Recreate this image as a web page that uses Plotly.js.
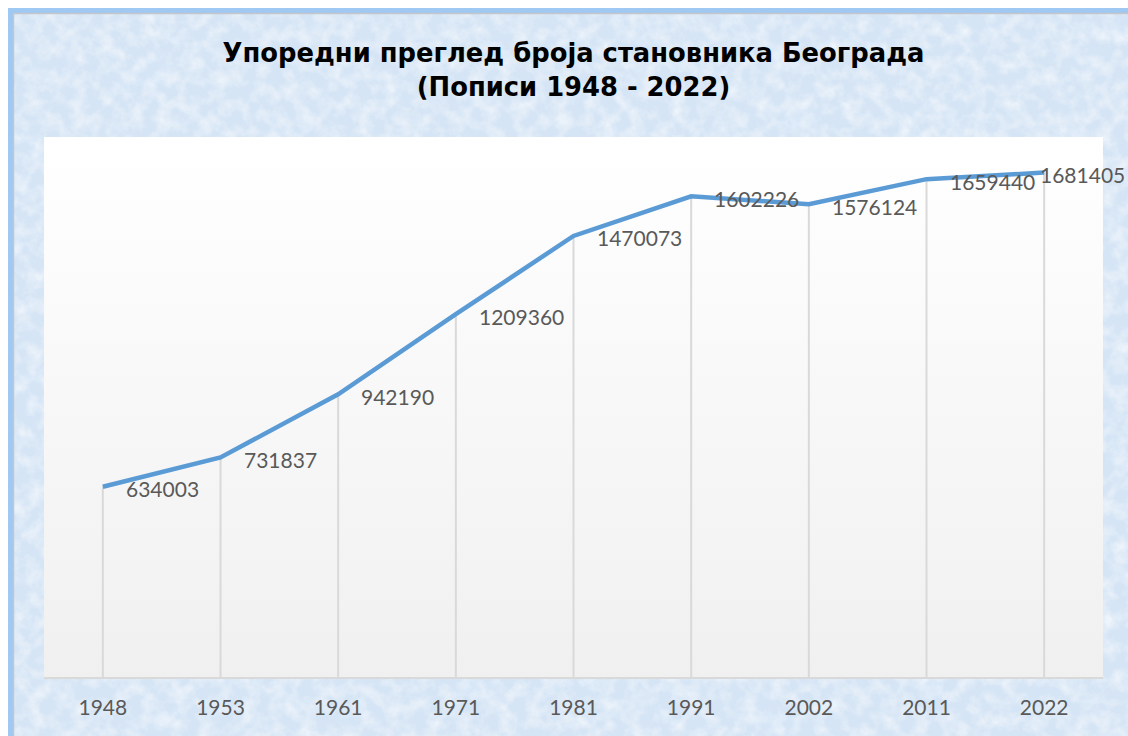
<!DOCTYPE html>
<html>
<head>
<meta charset="utf-8">
<script src="https://cdn.plot.ly/plotly-3.0.1.min.js"></script>
<style>html,body{margin:0;padding:0;background:#fff;}#chart{width:1128px;height:736px;}</style>
</head>
<body>
<div id="chart"></div>
<script>
var years = ['1948', '1953', '1961', '1971', '1981', '1991', '2002', '2011', '2022'];
var population = [634003, 731837, 942190, 1209360, 1470073, 1602226, 1576124, 1659440, 1681405];
var chartTitle = 'Упоредни преглед броја становника Београда<br>(Пописи 1948 - 2022)';

var W = 1128, H = 736, L = 44, R = 25, T = 137, B = 59;
var pw = W - L - R, ph = H - T - B;
function px(x) { return (x - L) / pw; }
function py(y) { return (H - B - y) / ph; }

var textColor = '#595959';
var labelFont = {family: 'Lato, "Open Sans", sans-serif', size: 21, color: textColor};

var dropTrace = {
  x: years, y: population, type: 'scatter', mode: 'markers',
  marker: {size: 1, opacity: 0},
  error_y: {type: 'data', symmetric: false, array: population.map(function(){return 0;}),
            arrayminus: population, color: '#d9d9d9', thickness: 2, width: 0},
  hoverinfo: 'skip', showlegend: false
};
var lineTrace = {
  x: years, y: population, type: 'scatter', mode: 'lines',
  line: {color: '#5b9bd5', width: 4.5},
  cliponaxis: false, showlegend: false
};

var annotations = years.map(function(yr, i) {
  var last = i === years.length - 1;
  return {
    x: i, y: population[i], xref: 'x', yref: 'y',
    text: String(population[i]), showarrow: false,
    xanchor: 'left', yanchor: 'middle',
    xshift: last ? -6 : 21, yshift: -2,
    font: labelFont
  };
});

function svgUri(s) { return 'data:image/svg+xml;charset=utf-8,' + encodeURIComponent(s); }

var gradientSvg = "<svg xmlns='http://www.w3.org/2000/svg' width='100' height='100' viewBox='0 0 100 100' preserveAspectRatio='none'>" +
  "<defs><linearGradient id='g' x1='0' y1='0' x2='0' y2='1'><stop offset='0' stop-color='#ffffff'/><stop offset='1' stop-color='#f0f0f0'/></linearGradient></defs>" +
  "<rect width='100' height='100' fill='url(#g)'/></svg>";

var textureSvg = "<svg xmlns='http://www.w3.org/2000/svg' width='" + W + "' height='" + H + "' viewBox='0 0 " + W + " " + H + "'>" +
  "<filter id='n' x='0' y='0' width='100%' height='100%'><feTurbulence type='fractalNoise' baseFrequency='0.07' numOctaves='4' seed='7'/>" +
  "<feColorMatrix type='matrix' values='0 0 0 0 1  0 0 0 0 1  0 0 0 0 1  1.1 0 0 0 -0.42'/></filter>" +
  "<filter id='m' x='0' y='0' width='100%' height='100%'><feTurbulence type='fractalNoise' baseFrequency='0.02' numOctaves='3' seed='3'/>" +
  "<feColorMatrix type='matrix' values='0 0 0 0 0.66  0 0 0 0 0.79  0 0 0 0 0.93  0 1.0 0 0 -0.42'/></filter>" +
  "<rect width='100%' height='100%' fill='#d6e5f5'/>" +
  "<rect width='100%' height='100%' filter='url(#m)'/>" +
  "<rect width='100%' height='100%' filter='url(#n)'/></svg>";

var shapes = [
  {type: 'rect', xref: 'paper', yref: 'paper', layer: 'below',
   x0: px(-10), x1: px(8), y0: py(800), y1: py(-10), fillcolor: '#ffffff', line: {width: 0}},
  {type: 'rect', xref: 'paper', yref: 'paper', layer: 'below',
   x0: px(-10), x1: px(1200), y0: py(8), y1: py(-10), fillcolor: '#ffffff', line: {width: 0}},
  {type: 'rect', xref: 'paper', yref: 'paper', layer: 'below',
   x0: px(10.5), x1: px(1300), y0: py(900), y1: py(10.5), fillcolor: 'rgba(0,0,0,0)', line: {color: '#9fc9f3', width: 5}},
  {type: 'rect', xref: 'paper', yref: 'paper', layer: 'below',
   x0: px(13.5), x1: px(1300), y0: py(900), y1: py(13.5), fillcolor: 'rgba(0,0,0,0)', line: {color: '#c3c7cc', width: 1.5}}
];

var layout = {
  width: W, height: H,
  margin: {l: L, r: R, t: T, b: B, pad: 0},
  paper_bgcolor: '#d6e6f6',
  plot_bgcolor: 'rgba(0,0,0,0)',
  title: {
    text: chartTitle,
    font: {family: '"DejaVu Sans", "Liberation Sans", sans-serif', size: 25.8, color: '#000000', weight: 'bold'},
    xref: 'paper', x: 0.5, xanchor: 'center',
    yref: 'container', y: 1 - 62 / H, yanchor: 'top'
  },
  xaxis: {
    type: 'category', range: [-0.5, years.length - 0.5],
    showgrid: false, zeroline: false, showline: true, linecolor: '#d9d9d9', linewidth: 2,
    ticks: '', tickfont: labelFont, ticklabelstandoff: 11, fixedrange: true
  },
  yaxis: {
    range: [0, 1800000], showgrid: false, zeroline: false, showline: false,
    showticklabels: false, ticks: '', fixedrange: true
  },
  images: [
    {source: svgUri(textureSvg), xref: 'paper', yref: 'paper', x: px(0), y: py(0),
     sizex: W / pw, sizey: H / ph, xanchor: 'left', yanchor: 'top', sizing: 'stretch', layer: 'below'},
    {source: svgUri(gradientSvg), xref: 'paper', yref: 'paper', x: 0, y: 1, sizex: 1, sizey: 1,
     xanchor: 'left', yanchor: 'top', sizing: 'stretch', layer: 'below'}
  ],
  shapes: shapes,
  annotations: annotations,
  showlegend: false
};

Plotly.newPlot('chart', [dropTrace, lineTrace], layout, {displayModeBar: false, staticPlot: true});
</script>
</body>
</html>
